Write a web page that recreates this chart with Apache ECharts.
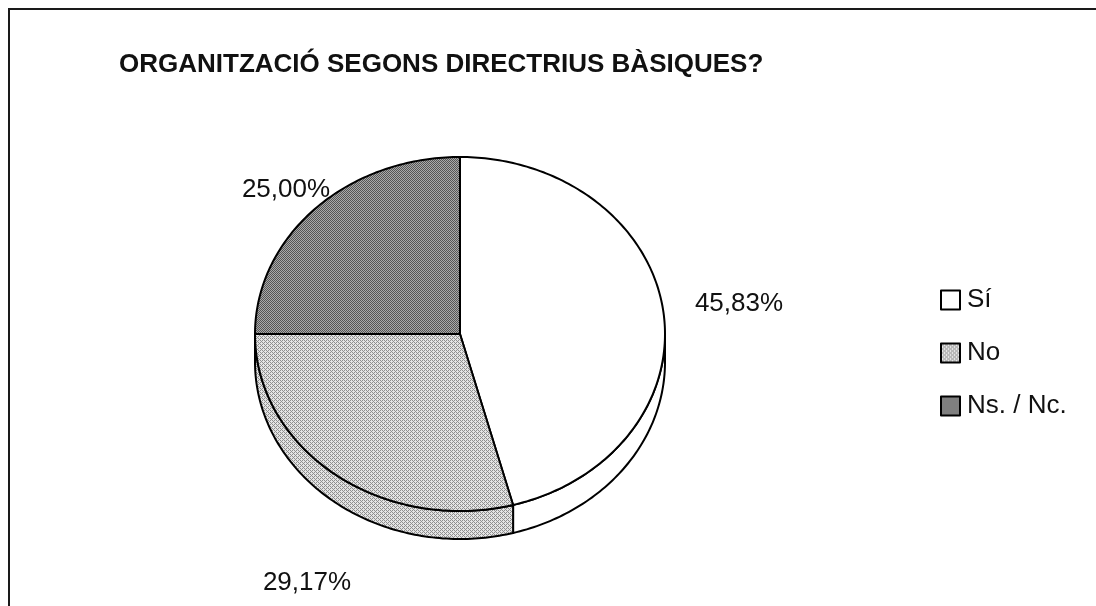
<!DOCTYPE html>
<html lang="ca">
<head>
<meta charset="UTF-8">
<title>Organització segons directrius bàsiques</title>
<script src="https://cdn.jsdelivr.net/npm/echarts@6/dist/echarts.min.js"></script>
<style>
    html,body{margin:0;padding:0;background:#fff;}
    #main{width:1096px;height:606px;}
</style>
</head>
<body>
<div id="main"></div>
<script>
    // dades
    var categories = ['Sí', 'No', 'Ns. / Nc.'];
    var values = [45.83, 29.17, 25.00];

    // geometria del pastís (el·lipse + gruix)
    var CX = 460, CY = 334, RX = 205, RY = 177, DEPTH = 28;
    // posició dels rètols de percentatge (centre del text)
    var labelPos = [[739, 304], [307, 583], [286, 190]];

    var total = values.reduce(function (a, b) { return a + b; }, 0);

    // trama puntejada (dither ordenat 4x4) per imitar el gris de l'original
    var BAYER = [0, 8, 2, 10, 12, 4, 14, 6, 3, 11, 1, 9, 15, 7, 13, 5];
    function dither(light, dark, frac) {
        var c = document.createElement('canvas');
        c.width = 4; c.height = 4;
        var ctx = c.getContext('2d');
        for (var i = 0; i < 16; i++) {
            ctx.fillStyle = BAYER[i] < frac * 16 ? dark : light;
            ctx.fillRect(i % 4, Math.floor(i / 4), 1, 1);
        }
        return {image: c, repeat: 'repeat'};
    }
    var colors = ['#ffffff', dither('#e4e4e4', '#8f8f8f', 0.32), dither('#aaaaaa', '#555555', 0.45)];

    function pt(a, dy) {
        return [CX + RX * Math.sin(a), CY - RY * Math.cos(a) + (dy || 0)];
    }
    function arc(a0, a1, dy) {
        var pts = [];
        var n = Math.max(2, Math.ceil((a1 - a0) / (Math.PI / 180)));
        for (var i = 0; i <= n; i++) {
            pts.push(pt(a0 + (a1 - a0) * i / n, dy));
        }
        return pts;
    }
    function fmt(v) {
        return v.toFixed(2).replace('.', ',') + '%';
    }

    function renderItem(params, api) {
        var idx = params.dataIndex;
        var before = 0;
        for (var i = 0; i < idx; i++) before += values[i];
        var a0 = before / total * Math.PI * 2;
        var a1 = (before + api.value(0)) / total * Math.PI * 2;
        var style = {fill: colors[idx], stroke: '#000', lineWidth: 2, lineJoin: 'round'};
        var children = [];
        // paret frontal (entre 90 i 270 graus)
        var s = Math.max(a0, Math.PI / 2), e = Math.min(a1, Math.PI * 1.5);
        if (e > s) {
            var top = arc(s, e, 0);
            var bot = arc(s, e, DEPTH).reverse();
            children.push({type: 'polygon', shape: {points: top.concat(bot)}, style: style});
        }
        // cara superior
        children.push({type: 'polygon', shape: {points: [[CX, CY]].concat(arc(a0, a1, 0))}, style: style});
        return {type: 'group', children: children};
    }

    var labels = values.map(function (v, i) {
        return {
            type: 'text', x: labelPos[i][0], y: labelPos[i][1],
            style: {text: fmt(v), font: '26px "Liberation Sans", Arial, sans-serif', fill: '#111',
                align: 'center', verticalAlign: 'middle'}
        };
    });

    var chart = echarts.init(document.getElementById('main'));
    chart.setOption({
        animation: false,
        title: {
            text: 'ORGANITZACIÓ SEGONS DIRECTRIUS BÀSIQUES?',
            left: 114, top: 47,
            textStyle: {fontFamily: '"Liberation Sans", Arial, sans-serif', fontWeight: 'bold', fontSize: 26, color: '#111'}
        },
        legend: {
            orient: 'vertical', left: 940, top: 287, padding: 0,
            icon: 'rect', itemWidth: 19, itemHeight: 19, itemGap: 27,
            textStyle: {fontFamily: '"Liberation Sans", Arial, sans-serif', fontSize: 26, color: '#111', padding: [0, 0, 0, 2]},
            data: categories
        },
        graphic: [{
            type: 'polyline', silent: true,
            shape: {points: [[9, 606], [9, 9], [1096, 9]]},
            style: {stroke: '#1a1a1a', lineWidth: 2, fill: null}
        }].concat(labels),
        series: [{
            type: 'custom',
            coordinateSystem: 'none',
            renderItem: renderItem,
            data: values
        }, {
            // només per a la llegenda
            type: 'pie', radius: 1, center: [-50, -50], silent: true,
            label: {show: false}, labelLine: {show: false},
            data: categories.map(function (c, i) {
                return {name: c, value: values[i], itemStyle: {color: colors[i], borderColor: '#000', borderWidth: 2}};
            })
        }]
    });
</script>
</body>
</html>
